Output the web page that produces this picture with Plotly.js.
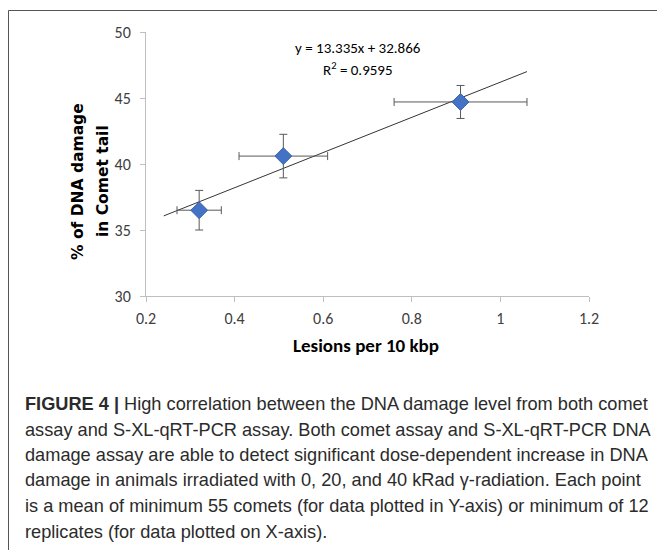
<!DOCTYPE html>
<html>
<head>
<meta charset="utf-8">
<script src="https://cdn.plot.ly/plotly-3.0.1.min.js"></script>
<style>
html,body{margin:0;padding:0;background:#fff;}
#chart{width:657px;height:550px;}
</style>
</head>
<body>
<div id="chart"></div>
<script>
// Data
var lesionsX = [0.32, 0.51, 0.91];          // Lesions per 10 kbp
var damageY = [36.5, 40.6, 44.7];           // % of DNA damage in Comet tail
var errX = [0.05, 0.10, 0.15];
var errY = [1.5, 1.65, 1.25];
var trendX = [0.24, 1.06];
var trendY = [36.07, 47.0];
var xTickVals = [0.2, 0.4, 0.6, 0.8, 1, 1.2];
var xTickText = ["0.2", "0.4", "0.6", "0.8", "1", "1.2"];
var yTickVals = [30, 35, 40, 45, 50];
var yTickText = ["30", "35", "40", "45", "50"];
var equationText = "y = 13.335x + 32.866";
var r2Text = "R<sup>2</sup> = 0.9595";
var xTitle = "Lesions per 10 kbp";
var yTitleLines = ["% of DNA damage", "in Comet tail"];
var captionLines = [
  "<b>FIGURE 4 |</b> High correlation between the DNA damage level from both comet",
  "assay and S-XL-qRT-PCR assay. Both comet assay and S-XL-qRT-PCR DNA",
  "damage assay are able to detect significant dose-dependent increase in DNA",
  "damage in animals irradiated with 0, 20, and 40 kRad \u03b3-radiation. Each point",
  "is a mean of minimum 55 comets (for data plotted in Y-axis) or minimum of 12",
  "replicates (for data plotted on X-axis)."
];

// plot area in pixels: x 146..589, y 32..296
var L = 146, R = 589, T = 32, B = 296, W = 657, H = 550;
function px(x){ return (x - L) / (R - L); }
function py(y){ return (B - y) / (B - T); }

var trend = {
  x: trendX, y: trendY, mode: 'lines', type: 'scatter',
  line: {color: '#000000', width: 0.8}, hoverinfo: 'skip', showlegend: false
};
var pts = {
  x: lesionsX, y: damageY, mode: 'markers', type: 'scatter',
  marker: {symbol: 'diamond', size: 13, color: '#4472C4', line: {color: '#3B64AD', width: 1}},
  error_x: {type: 'data', array: errX, visible: true, color: '#595959', thickness: 1, width: 4},
  error_y: {type: 'data', array: errY, visible: true, color: '#595959', thickness: 1, width: 4},
  showlegend: false
};

var calibri = 'Carlito, Calibri, "Liberation Sans", sans-serif';
var tickFont = {family: calibri, size: 16, color: '#404040'};
var annotations = [
  {xref: 'paper', yref: 'paper', x: px(358), y: py(48), text: equationText, showarrow: false,
   font: {family: calibri, size: 15, color: '#000'}, xanchor: 'center', yanchor: 'middle'},
  {xref: 'paper', yref: 'paper', x: px(358), y: py(69), text: r2Text, showarrow: false,
   font: {family: calibri, size: 15, color: '#000'}, xanchor: 'center', yanchor: 'middle'},
  {xref: 'paper', yref: 'paper', x: px(366), y: py(345), text: '<b>' + xTitle + '</b>', showarrow: false,
   font: {family: calibri, size: 19, color: '#000'}, xanchor: 'center', yanchor: 'middle'},
  {xref: 'paper', yref: 'paper', x: px(78), y: py(182), text: '<b>' + yTitleLines[0] + '</b>', showarrow: false,
   textangle: -90, font: {family: '"DejaVu Sans", sans-serif', size: 15.5, color: '#000'}, xanchor: 'center', yanchor: 'middle'},
  {xref: 'paper', yref: 'paper', x: px(103), y: py(181), text: '<b>' + yTitleLines[1] + '</b>', showarrow: false,
   textangle: -90, font: {family: '"DejaVu Sans", sans-serif', size: 15.5, color: '#000'}, xanchor: 'center', yanchor: 'middle'}
];
var capY = [404, 429.5, 455, 480.5, 506, 531.5];
for (var i = 0; i < captionLines.length; i++) {
  annotations.push({xref: 'paper', yref: 'paper', x: px(23), y: py(capY[i]), text: captionLines[i],
    showarrow: false, xanchor: 'left', yanchor: 'middle', align: 'left',
    font: {family: '"Liberation Sans", Arial, sans-serif', size: 18.2, color: '#2b2b2b'}});
}

var layout = {
  width: W, height: H,
  margin: {l: L, r: W - R, t: T, b: H - B, pad: 0},
  paper_bgcolor: '#fff', plot_bgcolor: '#fff',
  showlegend: false,
  xaxis: {
    range: [0.2, 1.2], tickvals: xTickVals, ticktext: xTickText,
    showgrid: false, zeroline: false, showline: true, linecolor: '#bfbfbf', linewidth: 1,
    ticks: 'outside', ticklen: 5, tickcolor: '#bfbfbf', tickfont: tickFont, ticklabelstandoff: 3
  },
  yaxis: {
    range: [30, 50], tickvals: yTickVals, ticktext: yTickText,
    showgrid: false, zeroline: false, showline: true, linecolor: '#bfbfbf', linewidth: 1,
    ticks: 'outside', ticklen: 5, tickcolor: '#bfbfbf', tickfont: tickFont, ticklabelstandoff: 6
  },
  annotations: annotations,
  shapes: [
    {type: 'rect', xref: 'paper', yref: 'paper', x0: px(8.5), x1: px(700), y0: py(10.5), y1: py(600),
     line: {color: '#555555', width: 1}, fillcolor: 'rgba(0,0,0,0)', layer: 'below'}
  ]
};

Plotly.newPlot('chart', [trend, pts], layout, {staticPlot: true, displayModeBar: false});
</script>
</body>
</html>
